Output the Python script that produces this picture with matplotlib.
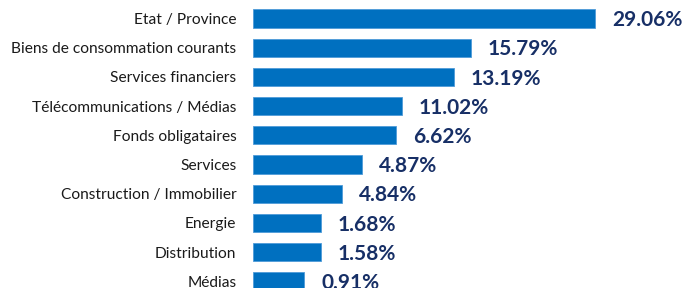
import matplotlib
matplotlib.use("Agg")
import matplotlib.pyplot as plt

# categories, top to bottom
categories = ["Etat / Province", "Biens de consommation courants", "Services financiers",
              "Télécommunications / Médias", "Fonds obligataires", "Services",
              "Construction / Immobilier", "Energie", "Distribution", "Médias"]
# weights printed next to each bar
weights = [29.06, 15.79, 13.19, 11.02, 6.62, 4.87, 4.84, 1.68, 1.58, 0.91]
# bar lengths as drawn in the source picture (not proportional to the weights)
bar_len = [29.06, 18.47, 17.05, 12.63, 12.10, 9.26, 7.56, 5.75, 5.75, 4.33]

plt.rcParams['font.family'] = ['Lato', 'DejaVu Sans']

fig = plt.figure(figsize=(6.86, 2.88), dpi=100)
ax = fig.add_axes([253.3 / 686, 0, 1 - 253.3 / 686, 1])

n = len(categories)
y = [n - 1 - i for i in range(n)]

ax.barh(y, bar_len, height=0.62, color='#0070C0', edgecolor='#4F9BD9', linewidth=0.6)

for yi, length, w in zip(y, bar_len, weights):
    ax.annotate(f'{w:.2f}%', xy=(length, yi), xytext=(12.3, -1.2), textcoords='offset points',
                ha='left', va='center', fontsize=15, fontweight='bold', color='#172F66')

ax.set_yticks(y)
ax.set_yticklabels(categories, fontsize=11.2, color='#1a1a1a')
ax.tick_params(axis='y', length=0, pad=12.2)
ax.set_xticks([])
ax.set_xlim(0, 36.76)
ax.set_ylim(-0.229, 9.634)
for s in ax.spines.values():
    s.set_visible(False)

fig.savefig('out.png', dpi=100)
